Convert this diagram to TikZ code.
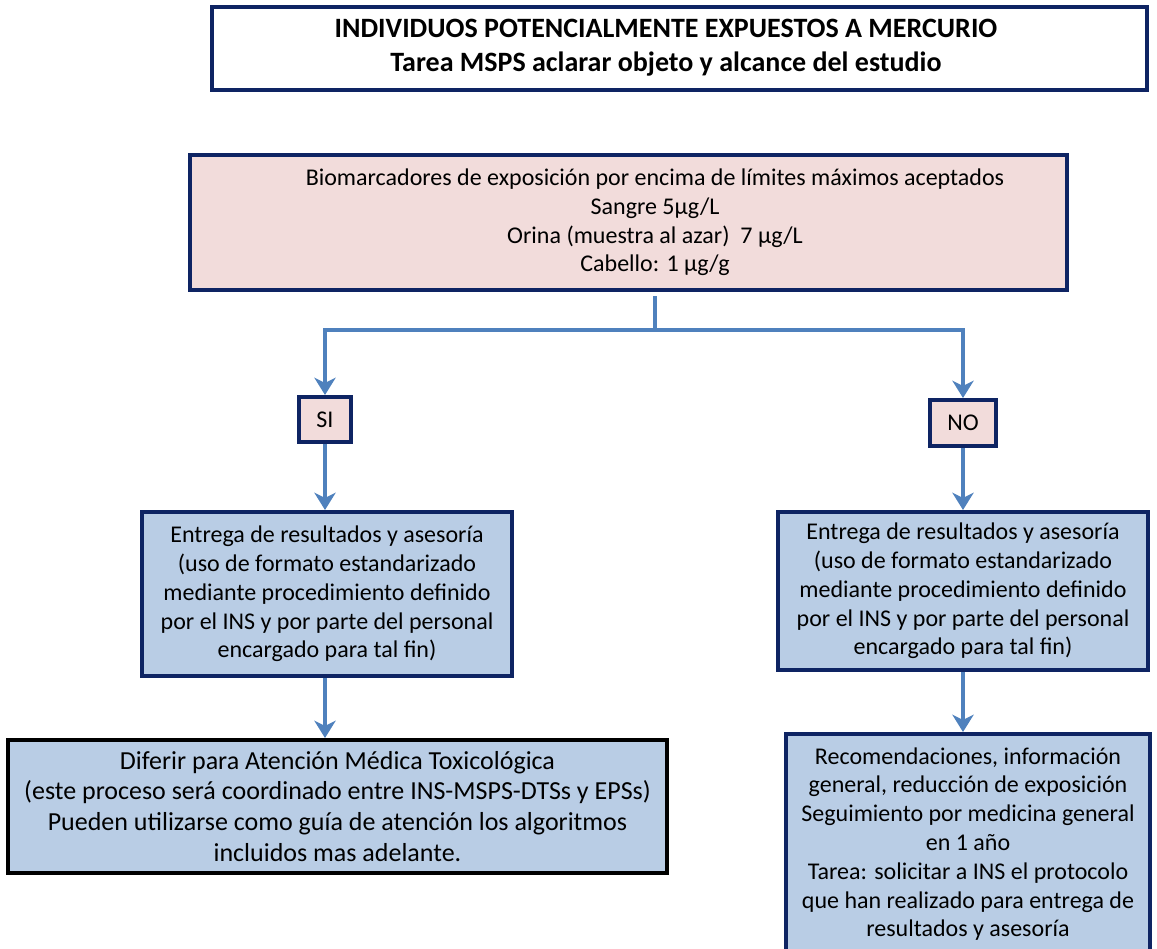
\documentclass[tikz,border=0pt]{standalone}
\usepackage{fontspec}
\setmainfont{Carlito}
\usetikzlibrary{arrows.meta}
\definecolor{navy}{HTML}{0E2463}
\definecolor{rosa}{HTML}{F2DCDB}
\definecolor{azul}{HTML}{B9CDE5}
\definecolor{flecha}{HTML}{4F81BD}
\begin{document}
\begin{tikzpicture}[x=0.75pt,y=-0.75pt,
	caja/.style={draw=navy,line width=3pt,align=center,inner sep=0pt,font=\fontsize{18}{21.6}\selectfont},
	texto/.style={align=center,inner sep=0pt,font=\fontsize{18}{21.4}\selectfont},
	flujo/.style={draw=flecha,line width=3pt,-{Stealth[length=13pt,width=16pt,inset=4pt]}}]
	\useasboundingbox (0,0) rectangle (1157,949);
	% cajas
	\node[caja,fill=white,minimum width=701pt,minimum height=62pt] (titulo) at (679.5,48.5) {};
	\node[texto,font=\fontsize{21}{25.5}\selectfont\bfseries] (titulotxt) at (666,48) {INDIVIDUOS POTENCIALMENTE EXPUESTOS A MERCURIO\\Tarea MSPS aclarar objeto y alcance del estudio};
	\node[caja,fill=rosa,minimum width=657.75pt,minimum height=101.25pt] (bio) at (628.5,222.5) {};
	\node[texto] (biotxt) at (655,222.5) {Biomarcadores de exposición por encima de límites máximos aceptados\\Sangre 5µg/L\\Orina (muestra al azar)~ 7 µg/L\\Cabello: 1 µg/g};
	\node[caja,fill=rosa,minimum width=39pt,minimum height=33.75pt] (si) at (325,419.5) {SI};
	\node[caja,fill=rosa,minimum width=49.5pt,minimum height=34.5pt] (no) at (963,423) {NO};
	\node[caja,fill=azul,minimum width=277.5pt,minimum height=123pt] (entrega1) at (327,594) {Entrega de resultados y asesoría\\(uso de formato estandarizado\\mediante procedimiento definido\\por el INS y por parte del personal\\encargado para tal fin)};
	\node[caja,fill=azul,minimum width=277.5pt,minimum height=118.5pt] (entrega2) at (963,591) {Entrega de resultados y asesoría\\(uso de formato estandarizado\\mediante procedimiento definido\\por el INS y por parte del personal\\encargado para tal fin)};
	\node[caja,draw=black,fill=azul,minimum width=494.25pt,minimum height=99.75pt,font=\fontsize{19.5}{23.2}\selectfont] (diferir) at (337.5,806.5) {Diferir para Atención Médica Toxicológica\\(este proceso será coordinado entre INS-MSPS-DTSs y EPSs)\\Pueden utilizarse como guía de atención los algoritmos\\incluidos mas adelante.};
	\node[caja,fill=azul,minimum width=273pt,minimum height=165pt] (recom) at (968,844) {Recomendaciones, información\\general, reducción de exposición\\Seguimiento por medicina general\\en 1 año\\Tarea: solicitar a INS el protocolo\\que han realizado para entrega de\\resultados y asesoría};
	% conectores
	\coordinate (rama) at (655,330);
	\draw[flecha,line width=3pt] (bio.south -| rama) ++(0,4) -- (rama);
	\draw[flujo] (rama) -| (si.north);
	\draw[flujo] (rama) -| (no.north);
	\draw[flujo] (si.south) -- (entrega1.north -| si.south);
	\draw[flujo] (no.south) -- (entrega2.north -| no.south);
	\draw[flujo] (entrega1.south -| si.south) -- (diferir.north -| si.south);
	\draw[flujo] (entrega2.south -| no.south) -- (recom.north -| no.south);
\end{tikzpicture}
\end{document}
